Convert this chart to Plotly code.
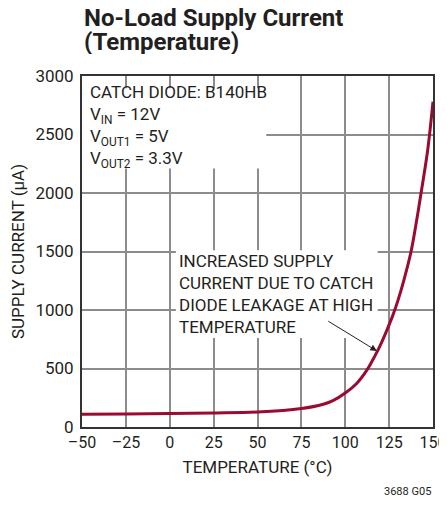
import plotly.graph_objects as go

temperature = [-50, -25, 0, 25, 50, 75, 87.5, 93, 100, 106.5, 112.5, 117, 120, 123.5, 127, 130,
               133.5, 137.5, 140.5, 143.2, 147, 150]
supply_current = [110, 112, 115, 120, 128, 158, 195, 225, 290, 372, 490, 610, 700, 820, 950, 1080,
                  1260, 1500, 1750, 2000, 2370, 2780]

x_ticks = [-50, -25, 0, 25, 50, 75, 100, 125, 150]
x_tick_text = ["–50", "–25", "0", "25", "50", "75", "100", "125", "150"]
y_ticks = [0, 500, 1000, 1500, 2000, 2500, 3000]

FONT = "Roboto, Liberation Sans, Arial, sans-serif"
TEXT = "#231f20"
CURVE = "#9a0a32"
GRID = "#8c8c8c"

fig = go.Figure()
fig.add_trace(go.Scatter(
    x=temperature, y=supply_current, mode="lines",
    line=dict(color=CURVE, width=3, shape="spline", smoothing=1),
    showlegend=False, hoverinfo="skip",
))

# white boxes for the notes, so the grid stops behind the text
fig.add_shape(type="rect", xref="x", yref="y", x0=-50, x1=55, y0=2210, y1=2895,
              fillcolor="white", line_width=0, layer="above")
fig.add_shape(type="rect", xref="x", yref="y", x0=3.5, x1=118.5, y0=760, y1=1510,
              fillcolor="white", line_width=0, layer="above")

fig.add_annotation(
    x=-46.5, y=2965, xref="x", yref="y", xanchor="left", yanchor="top", align="left",
    showarrow=False, font=dict(family=FONT, size=17, color=TEXT),
    text="CATCH DIODE: B140HB<br>V<sub>IN</sub> = 12V<br>V<sub>OUT1</sub> = 5V<br>V<sub>OUT2</sub> = 3.3V",
)
fig.add_annotation(
    x=4, y=1520, xref="x", yref="y", xanchor="left", yanchor="top", align="left",
    showarrow=False, font=dict(family=FONT, size=17, color=TEXT),
    text="INCREASED SUPPLY<br>CURRENT DUE TO CATCH<br>DIODE LEAKAGE AT HIGH<br>TEMPERATURE",
)
fig.add_annotation(
    x=118, y=650, ax=89.5, ay=912, xref="x", yref="y", axref="x", ayref="y",
    text="", showarrow=True, arrowhead=2, arrowsize=1.3, arrowwidth=1, arrowcolor=TEXT,
)

# title as two lines, set tighter than plotly's own line spacing
fig.add_annotation(
    x=0, y=1, xref="paper", yref="paper", xanchor="left", yanchor="middle", yshift=58,
    height=24, showarrow=False, font=dict(family=FONT, size=24, color=TEXT),
    text="<b>No-Load Supply Current</b>",
)
fig.add_annotation(
    x=0, y=1, xref="paper", yref="paper", xanchor="left", yanchor="middle", yshift=34,
    height=24, showarrow=False, font=dict(family=FONT, size=24, color=TEXT),
    text="<b>(Temperature)</b>",
)
fig.add_annotation(
    x=1, y=0, xref="paper", yref="paper", xanchor="right", yanchor="middle", yshift=-64,
    showarrow=False, font=dict(family=FONT, size=11, color=TEXT), text="3688 G05",
)

fig.update_xaxes(
    range=[-50, 150], tickvals=x_ticks, ticktext=x_tick_text, automargin=False,
    ticklabeloverflow="allow",
    showgrid=True, gridcolor=GRID, gridwidth=1.5, zeroline=False,
    showline=True, linecolor="#333333", linewidth=2, mirror=True,
    ticks="", tickfont=dict(family=FONT, size=16, color=TEXT),
    title=dict(text="TEMPERATURE (°C)", font=dict(family=FONT, size=17, color=TEXT), standoff=10),
)
fig.update_yaxes(
    range=[0, 3000], tickvals=y_ticks, automargin=False,
    showgrid=True, gridcolor=GRID, gridwidth=1.5, zeroline=False,
    showline=True, linecolor="#333333", linewidth=2, mirror=True,
    ticks="", tickfont=dict(family=FONT, size=17, color=TEXT), ticklabelstandoff=3,
    title=dict(text="SUPPLY CURRENT (µA)", font=dict(family=FONT, size=17, color=TEXT), standoff=7),
)

# the page body adds an 8px margin on every side; keep the page shorter than the
# window so no scrollbar eats into the right edge
fig.update_layout(
    width=439, height=488,
    margin=dict(l=74, r=14, t=68, b=69),
    plot_bgcolor="white", paper_bgcolor="white",
    font=dict(family=FONT, color=TEXT),
)

fig.write_html("out.html")
